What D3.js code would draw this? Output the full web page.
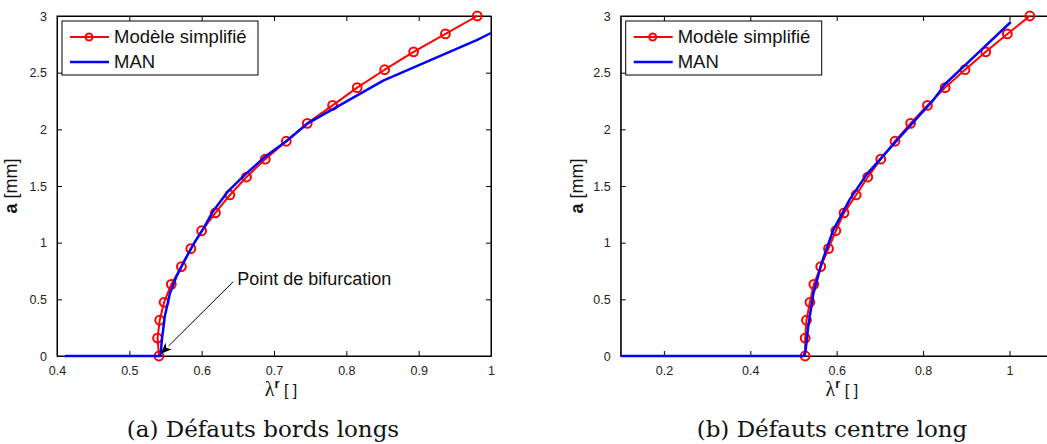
<!DOCTYPE html>
<html><head><meta charset="utf-8">
<script src="https://cdn.jsdelivr.net/npm/d3@7"></script>
<style>html,body{margin:0;padding:0;background:#fff;}svg{display:block;}</style>
</head><body>
<svg id="chart" width="1047" height="444"></svg>
<script>
// ---- Data: panel (a) Défauts bords longs ----
const aSimpX = [0.541,0.539,0.542,0.548,0.558,0.572,0.585,0.600,0.619,0.639,0.662,0.688,0.717,0.746,0.781,0.815,0.853,0.893,0.937,0.981];
const aSimpY = [0,0.158,0.316,0.474,0.632,0.789,0.947,1.105,1.263,1.421,1.579,1.737,1.895,2.053,2.211,2.368,2.526,2.684,2.842,3.0];
const aManX = [0.411,0.543,0.545,0.549,0.556,0.565,0.577,0.590,0.603,0.615,0.636,0.660,0.688,0.716,0.746,0.851,0.981,1.0];
const aManY = [0,0,0.14,0.35,0.55,0.70,0.85,1.0,1.13,1.27,1.45,1.60,1.76,1.89,2.05,2.43,2.79,2.85];
const aXTicks = [0.4,0.5,0.6,0.7,0.8,0.9,1.0];
const aXTickLabels = ["0.4","0.5","0.6","0.7","0.8","0.9","1"];

// ---- Data: panel (b) Défauts centre long ----
const bSimpX = [0.527,0.527,0.530,0.538,0.547,0.563,0.581,0.598,0.617,0.645,0.672,0.702,0.735,0.771,0.810,0.851,0.897,0.945,0.995,1.047];
const bSimpY = [0,0.158,0.316,0.474,0.632,0.789,0.947,1.105,1.263,1.421,1.579,1.737,1.895,2.053,2.211,2.368,2.526,2.684,2.842,3.0];
const bManX = [0.1,0.524,0.528,0.534,0.546,0.565,0.592,0.630,0.669,0.747,0.824,0.851,0.901,1.003];
const bManY = [0,0,0.05,0.26,0.55,0.82,1.11,1.38,1.60,1.935,2.26,2.40,2.58,2.947];
const bXTicks = [0.2,0.4,0.6,0.8,1.0];
const bXTickLabels = ["0.2","0.4","0.6","0.8","1"];

const yTicks = [0,0.5,1,1.5,2,2.5,3];
const yTickLabels = ["0","0.5","1","1.5","2","2.5","3"];
const seriesNames = ["Modèle simplifié","MAN"];
const captions = ["(a) Défauts bords longs","(b) Défauts centre long"];
const annotationText = "Point de bifurcation";
const annotationFrom = [0.6437,0.656];
const annotationTo = [0.5435,0.02];

const svg = d3.select("#chart");
const RED = "#ff0000", BLUE = "#0000ff";
const SANS = "'Liberation Sans', Arial, Helvetica, sans-serif";

function panel(cfg) {
  const x = d3.scaleLinear().domain(cfg.xDomain).range(cfg.xRange);
  const y = d3.scaleLinear().domain([0,3]).range([356,16]);
  const g = svg.append("g");
  const [x0,x1] = cfg.xRange, [y0,y1] = [356,16];

  // frame
  g.append("rect").attr("x",x0).attr("y",y1).attr("width",x1-x0).attr("height",y0-y1)
    .attr("fill","none").attr("stroke","#000").attr("stroke-width",1);

  // axes (ticks inward)
  const fmtX = d => cfg.xTickLabels[cfg.xTicks.indexOf(d)];
  const fmtY = d => yTickLabels[yTicks.indexOf(d)];
  const bottom = g.append("g").attr("transform",`translate(0,${y0})`)
    .call(d3.axisBottom(x).tickValues(cfg.xTicks).tickFormat(fmtX).tickSizeInner(-5).tickSizeOuter(0).tickPadding(10));
  const top = g.append("g").attr("transform",`translate(0,${y1})`)
    .call(d3.axisTop(x).tickValues(cfg.xTicks).tickFormat("").tickSizeInner(-5).tickSizeOuter(0));
  const left = g.append("g").attr("transform",`translate(${x0},0)`)
    .call(d3.axisLeft(y).tickValues(yTicks).tickFormat(fmtY).tickSizeInner(-5).tickSizeOuter(0).tickPadding(10));
  const right = g.append("g").attr("transform",`translate(${x1},0)`)
    .call(d3.axisRight(y).tickValues(yTicks).tickFormat("").tickSizeInner(-5).tickSizeOuter(0));
  [bottom,top,left,right].forEach(a => {
    a.select(".domain").attr("stroke","#000");
    a.selectAll(".tick line").attr("stroke","#000");
    a.selectAll("text").attr("font-family",SANS).attr("font-size",12.5).attr("fill","#222");
  });
  bottom.selectAll("text").attr("dy","0.71em");

  // lines
  const line = d3.line().x(d => x(d[0])).y(d => y(d[1]));
  const simp = cfg.simpX.map((v,i) => [v,cfg.simpY[i]]);
  const man = cfg.manX.map((v,i) => [v,cfg.manY[i]]);
  g.append("path").datum(simp).attr("d",line).attr("fill","none").attr("stroke",RED).attr("stroke-width",2).attr("stroke-linejoin","round");
  g.selectAll("circle.m").data(simp).join("circle").attr("class","m")
    .attr("cx",d => x(d[0])).attr("cy",d => y(d[1])).attr("r",4.4)
    .attr("fill","none").attr("stroke",RED).attr("stroke-width",2);
  g.append("path").datum(man).attr("d",line).attr("fill","none").attr("stroke",BLUE).attr("stroke-width",2.5).attr("stroke-linejoin","round");

  // legend
  const lx = x0 + cfg.legDx, ly = 21;
  g.append("rect").attr("x",lx).attr("y",ly).attr("width",196).attr("height",54)
    .attr("fill","#fff").attr("stroke","#000").attr("stroke-width",1);
  const rows = [{c:RED,m:true,w:2},{c:BLUE,m:false,w:2.5}];
  rows.forEach((r,i) => {
    const cy = ly + 16 + i*25;
    g.append("line").attr("x1",lx+8).attr("x2",lx+47).attr("y1",cy).attr("y2",cy).attr("stroke",r.c).attr("stroke-width",r.w);
    if (r.m) g.append("circle").attr("cx",lx+27).attr("cy",cy).attr("r",3.5).attr("fill","none").attr("stroke",r.c).attr("stroke-width",2);
    g.append("text").attr("x",lx+52).attr("y",cy).attr("dy","0.35em").attr("font-family",SANS).attr("font-size",18.5).attr("fill","#111").text(seriesNames[i]);
  });

  // y label
  const yl = g.append("text").attr("transform",`translate(${cfg.yLabX},186) rotate(-90)`)
    .attr("text-anchor","middle").attr("font-family",SANS).attr("font-size",18).attr("fill","#111");
  yl.append("tspan").attr("font-weight","bold").text("a");
  yl.append("tspan").text(" [mm]");

  // x label
  const xl = g.append("text").attr("x",(x0+Math.min(x1,1047))/2 + cfg.xLabShift).attr("y",396)
    .attr("text-anchor","middle").attr("font-size",18).attr("fill","#111");
  xl.append("tspan").attr("font-family","'Liberation Serif', serif").attr("font-size",20).text("λ");
  xl.append("tspan").attr("font-family",SANS).attr("font-weight","bold").attr("font-size",13).attr("dy",-8).text("r");
  xl.append("tspan").attr("font-family",SANS).attr("font-size",16).attr("dy",8).text(" [ ]");

  // caption
  g.append("text").attr("x",cfg.capX).attr("y",437).attr("text-anchor","middle")
    .attr("font-family","'DejaVu Serif', serif").attr("font-size",23).attr("fill","#111").text(cfg.caption);

  return {g,x,y};
}

const A = panel({xDomain:[0.4,1.0], xRange:[57,491], xTicks:aXTicks, xTickLabels:aXTickLabels,
  simpX:aSimpX, simpY:aSimpY, manX:aManX, manY:aManY, legDx:5, yLabX:17, xLabShift:7, capX:263, caption:captions[0]});
const B = panel({xDomain:[0.1,1.1], xRange:[620.7,1052.7], xTicks:bXTicks, xTickLabels:bXTickLabels,
  simpX:bSimpX, simpY:bSimpY, manX:bManX, manY:bManY, legDx:5, yLabX:583, xLabShift:8, capX:832, caption:captions[1]});

// annotation arrow in panel (a)
(function(){
  const {g,x,y} = A;
  const x1 = x(annotationFrom[0]), y1 = y(annotationFrom[1]);
  const x2 = x(annotationTo[0]), y2 = y(annotationTo[1]);
  const ang = Math.atan2(y2-y1, x2-x1);
  const L = 11, W = 4.5;
  const bx = x2 - L*Math.cos(ang), by = y2 - L*Math.sin(ang);
  g.append("line").attr("x1",x1).attr("y1",y1).attr("x2",bx).attr("y2",by).attr("stroke","#000").attr("stroke-width",1);
  const p = [[x2,y2],[bx + W*Math.sin(ang), by - W*Math.cos(ang)],[bx + 3*Math.cos(ang), by + 3*Math.sin(ang)],[bx - W*Math.sin(ang), by + W*Math.cos(ang)]];
  g.append("path").attr("d","M"+p.map(q=>q.join(",")).join("L")+"Z").attr("fill","#000");
  g.append("text").attr("x",x1+4).attr("y",y1+3).attr("font-family",SANS).attr("font-size",18).attr("fill","#111").text(annotationText);
})();
</script>
</body></html>
